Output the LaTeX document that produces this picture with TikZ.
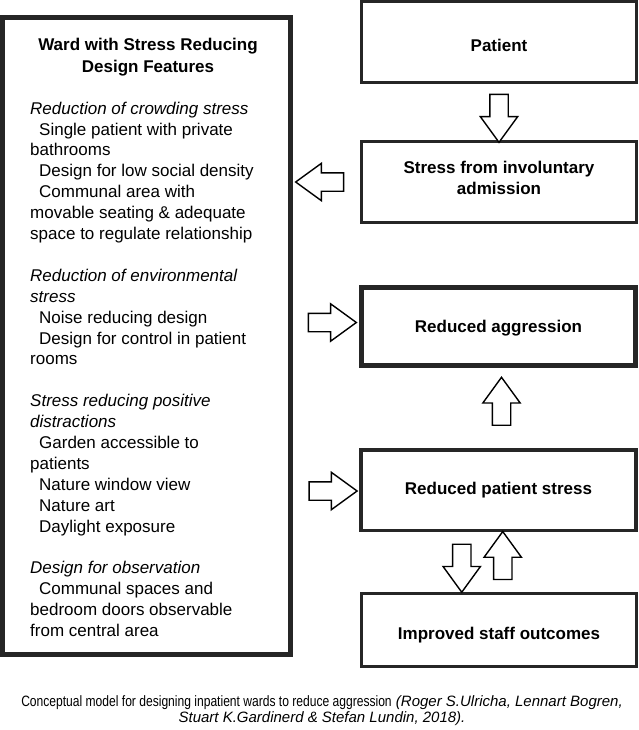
\documentclass[tikz,border=0pt]{standalone}
\usepackage{fontspec}
\setmainfont{Liberation Sans}
\newfontfamily\capnarrow[FakeStretch=0.805]{Liberation Sans}
\usetikzlibrary{shapes.arrows,calc}
\definecolor{linec}{HTML}{262626}
\begin{document}
\begin{tikzpicture}[x={(1bp,0)}, y={(0,-1bp)},
  box/.style={draw=linec, line width=3bp, minimum width=275bp, inner sep=0pt, outer sep=0pt,
    align=center, font=\fontsize{17bp}{21bp}\selectfont\bfseries},
  barrow/.style={draw=black, fill=white, line width=1.4bp, single arrow,
    single arrow head extend=9.5bp, single arrow tip angle=72, minimum height=48bp,
    inner sep=8.5bp, outer sep=0pt},
  bodytext/.style={font=\fontsize{17bp}{20.9bp}\selectfont, align=left, inner sep=0pt, anchor=north west},
  captext/.style={font=\fontsize{15bp}{16.5bp}\selectfont, align=center, inner sep=0pt}]
\useasboundingbox (0,0) rectangle (639,730);

% left box
\node[draw=linec, line width=5bp, minimum width=288bp, minimum height=637bp, inner sep=0pt, outer sep=0pt] (ward) at (146.5,336) {};
\node[align=center, inner sep=0pt, font=\fontsize{17bp}{22bp}\selectfont\bfseries] (title) at (148,57) {Ward with Stress Reducing\\Design Features};
\node[bodytext] (body) at (30,101.6) {%
\textit{Reduction of crowding stress}\\
\hspace*{9bp}Single patient with private\\
bathrooms\\
\hspace*{9bp}Design for low social density\\
\hspace*{9bp}Communal area with\\
movable seating \& adequate\\
space to regulate relationship\\[20.9bp]
\textit{Reduction of environmental}\\
\textit{stress}\\
\hspace*{9bp}Noise reducing design\\
\hspace*{9bp}Design for control in patient\\
rooms\\[20.9bp]
\textit{Stress reducing positive}\\
\textit{distractions}\\
\hspace*{9bp}Garden accessible to\\
patients\\
\hspace*{9bp}Nature window view\\
\hspace*{9bp}Nature art\\
\hspace*{9bp}Daylight exposure\\[20.9bp]
\textit{Design for observation}\\
\hspace*{9bp}Communal spaces and\\
bedroom doors observable\\
from central area};

% right boxes
\node[box, minimum height=81bp, text height=19bp, text depth=0bp] (patient) at (499,42) {Patient};
\node[box, minimum height=81bp] (stress) at (499,182) {Stress from involuntary\\admission\rule[-8bp]{0pt}{8bp}};
\node[box, line width=5bp, minimum width=274bp, minimum height=78bp, text height=11bp, text depth=0bp] (aggr) at (498.5,326.5) {Reduced aggression};
\node[box, line width=3.5bp, minimum height=80.5bp] (pstress) at (498.5,490) {Reduced patient stress};
\node[box, minimum height=73bp, text height=18bp, text depth=0bp] (staff) at (499,630) {Improved staff outcomes};

% block arrows
\node[barrow, rotate=-90] (a1) at ($(patient.south)!0.5!(stress.north)$) {};
\node[barrow, rotate=180] (a2) at ($(ward.east |- stress.center)!0.5!(stress.west)$) {};
\node[barrow] (a3) at ($(ward.east |- aggr.center)!0.5!(aggr.west) + (0,-4)$) {};
\node[barrow, rotate=90] (a4) at ($(aggr.south)!0.5!(pstress.north) + (3,0)$) {};
\node[barrow] (a5) at ($(ward.east |- pstress.center)!0.5!(pstress.west) + (1,1)$) {};
\node[barrow, rotate=-90] (a6) at ($(pstress.south)!0.5!(staff.north) + (-37,0)$) {};
\node[barrow, rotate=90] (a7) at ($(pstress.south)!0.5!(staff.north) + (4,0)$) {};

% caption
\node[captext] (caption) at (322,710.5) {{\capnarrow Conceptual model for designing inpatient wards to reduce aggression} \textit{(Roger S.Ulricha, Lennart Bogren,}\\\textit{Stuart K.Gardinerd \& Stefan Lundin, 2018).}};
\end{tikzpicture}
\end{document}
